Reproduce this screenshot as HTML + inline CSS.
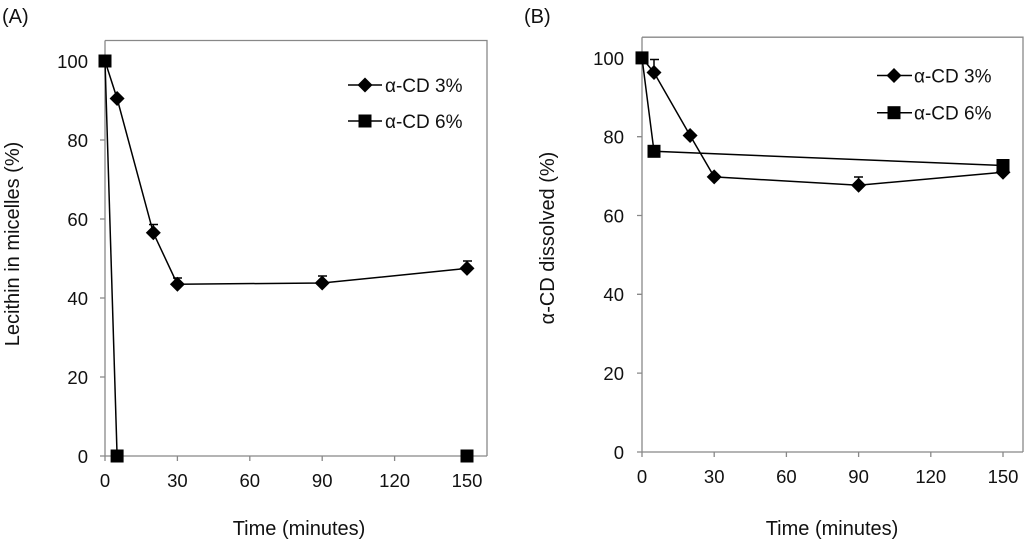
<!DOCTYPE html>
<html><head><meta charset="utf-8"><style>body{margin:0;background:#fff}svg{display:block}text{font-family:"Liberation Sans",Arial,sans-serif;fill:#111}</style></head>
<body>
<svg width="1024" height="540" viewBox="0 0 1024 540" xmlns="http://www.w3.org/2000/svg">
<defs>
<path id="d" d="M0,-7.5 L7.5,0 L0,7.5 L-7.5,0Z" fill="#000"/>
<rect id="s" x="-6.5" y="-6.5" width="13" height="13" fill="#000"/>
</defs>
<!-- Panel A -->
<text x="2" y="23" font-size="20">(A)</text>
<g stroke="#888" stroke-width="1.3" fill="none">
<path d="M105,40.5 H487 V456 M105,40.5 V456 H487"/>
<path d="M100,61H105M100,140H105M100,219H105M100,298H105M100,377H105M100,456H105"/>
<path d="M105,456V461M177.4,456V461M249.8,456V461M322.2,456V461M394.6,456V461M467,456V461"/>
</g>
<g font-size="18.5" text-anchor="end">
<text x="88" y="68">100</text><text x="88" y="147">80</text><text x="88" y="226">60</text><text x="88" y="305">40</text><text x="88" y="384">20</text><text x="88" y="463">0</text>
</g>
<g font-size="18.5" text-anchor="middle">
<text x="105" y="487">0</text><text x="177.4" y="487">30</text><text x="249.8" y="487">60</text><text x="322.2" y="487">90</text><text x="394.6" y="487">120</text><text x="467" y="487">150</text>
</g>
<g font-size="20" text-anchor="middle">
<text x="299" y="535">Time (minutes)</text>
<text transform="translate(19,244) rotate(-90)">Lecithin in micelles (%)</text>
</g>
<g stroke="#000" stroke-width="1.5" fill="none">
<polyline points="105,61 117.1,98.5 153.3,232.8 177.4,284.2 322.2,283 467,268.4"/>
<polyline points="105,61 117.1,456"/>
<path d="M153.3,232.8V224.5M149,224.5H158M177.4,284.2V278M173,278H182M322.2,283V276M318,276H327M467,268.4V261M463,261H472"/>
<path d="M348,85H382M348,121H382"/>
</g>
<use href="#d" x="117.1" y="98.5"/><use href="#d" x="153.3" y="232.8"/><use href="#d" x="177.4" y="284.2"/><use href="#d" x="322.2" y="283"/><use href="#d" x="467" y="268.4"/>
<use href="#s" x="105" y="61"/><use href="#s" x="117.1" y="456"/><use href="#s" x="467" y="456"/>
<use href="#d" x="365" y="85"/><use href="#s" x="365" y="121"/>
<text x="385" y="92" font-size="19">α-CD 3%</text><text x="385" y="128" font-size="19">α-CD 6%</text>
<!-- Panel B -->
<text x="524" y="23" font-size="20">(B)</text>
<g stroke="#888" stroke-width="1.3" fill="none">
<path d="M642,37.2 H1023 V452 M642,37.2 V452 H1023"/>
<path d="M637,57.9H642M637,136.7H642M637,215.5H642M637,294.3H642M637,373.1H642M637,452H642"/>
<path d="M642,452V457M714.2,452V457M786.4,452V457M858.6,452V457M930.8,452V457M1003,452V457"/>
</g>
<g font-size="18.5" text-anchor="end">
<text x="624" y="65">100</text><text x="624" y="143.5">80</text><text x="624" y="222.5">60</text><text x="624" y="301">40</text><text x="624" y="380">20</text><text x="624" y="459">0</text>
</g>
<g font-size="18.5" text-anchor="middle">
<text x="642" y="483">0</text><text x="714.2" y="483">30</text><text x="786.4" y="483">60</text><text x="858.6" y="483">90</text><text x="930.8" y="483">120</text><text x="1003" y="483">150</text>
</g>
<g font-size="20" text-anchor="middle">
<text x="832" y="535">Time (minutes)</text>
<text transform="translate(554,238) rotate(-90)">α-CD dissolved (%)</text>
</g>
<g stroke="#000" stroke-width="1.5" fill="none">
<polyline points="642,57.9 654,72.5 690.1,135.5 714.2,176.9 858.6,185.2 1003,172.2"/>
<polyline points="642,57.9 654,151.3 1003,165.5"/>
<path d="M654,72.5V59.5M650,59.5H659M858.6,185.2V177M854,177H863"/>
<path d="M877,75.5H912M877,112.7H912"/>
</g>
<use href="#d" x="654" y="72.5"/><use href="#d" x="690.1" y="135.5"/><use href="#d" x="714.2" y="176.9"/><use href="#d" x="858.6" y="185.2"/><use href="#d" x="1003" y="172.2"/>
<use href="#s" x="642" y="57.9"/><use href="#s" x="654" y="151.3"/><use href="#s" x="1003" y="165.5"/>
<use href="#d" x="894" y="75.5"/><use href="#s" x="894" y="112.7"/>
<text x="914" y="82.5" font-size="19">α-CD 3%</text><text x="914" y="119.5" font-size="19">α-CD 6%</text>
</svg>
</body></html>
